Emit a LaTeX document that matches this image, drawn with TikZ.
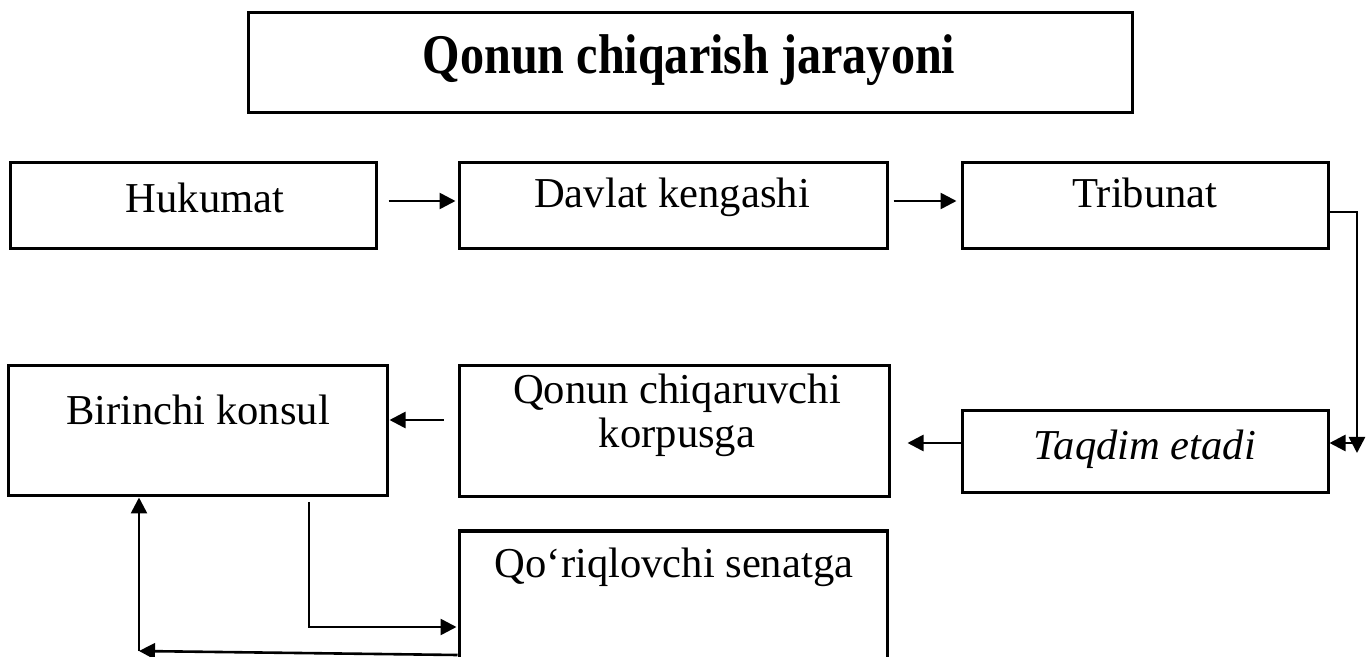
\documentclass[tikz,border=0pt]{standalone}
\usepackage{fontspec}
\setmainfont{Liberation Serif}
\usetikzlibrary{arrows.meta,calc}
\tikzset{
  box/.style={draw, line width=1.5pt, rectangle, inner sep=0pt},
  lbl/.style={anchor=base, inner sep=0pt, font=\fontsize{21.3}{25}\selectfont},
  conn/.style={line width=1.3pt, -{Triangle[length=8pt,width=8pt]}}
}
\begin{document}
\begin{tikzpicture}[x=0.5pt,y=-0.5pt]
\useasboundingbox (0,0) rectangle (1371,657);
\clip (0,0) rectangle (1371,657);
% boxes
\node[box, minimum width=442pt, minimum height=50pt] (title) at (690,63) {};
\node[box, minimum width=183pt, minimum height=43pt] (huk) at (193,206) {};
\node[box, minimum width=214pt, minimum height=43pt] (davlat) at (673,206) {};
\node[box, minimum width=183pt, minimum height=43pt] (trib) at (1145,206) {};
\node[box, minimum width=189.5pt, minimum height=65pt] (birinchi) at (197.5,431) {};
\node[box, minimum width=215pt, minimum height=65.5pt] (qonun) at (674,431.5) {};
\node[box, minimum width=183pt, minimum height=41pt] (taqdim) at (1145,452) {};
\node[box, minimum width=214pt, minimum height=84.5pt] (senat) at (673,615.5) {};
% texts
\node[anchor=base, inner sep=0pt, font=\fontsize{28}{32}\selectfont\bfseries] (titlet) at (689,74) {\scalebox{0.86}[1]{Qonun chiqarish jarayoni}};
\node[lbl] (hukt) at (205,213) {Hukumat};
\node[lbl] (davlatt) at (672,208) {Davlat kengashi};
\node[lbl] (tribt) at (1145,208) {Tribunat};
\node[lbl] (birt) at (198,425) {Birinchi konsul};
\node[lbl] (qont1) at (677,404) {Qonun chiqaruvchi};
\node[lbl] (qont2) at (677,448) {korpusga};
\node[lbl] (taqt) at (1145,460) {\itshape Taqdim etadi};
\node[lbl] (sent) at (674,577) {Qo‘riqlovchi senatga};
% connectors
\draw[conn] ([shift={(11,-5)}]huk.east) -- ([shift={(-2,-5)}]davlat.west);
\draw[conn] ([shift={(5,-5)}]davlat.east) -- ([shift={(-4,-5)}]trib.west);
\coordinate (rc) at (1357,453);
\coordinate (rm) at (1357,443);
\draw[conn] ([shift={(0,6)}]trib.east) -| (rc);
\draw[conn] (rm) -- (taqdim.east |- rm);
\draw[conn] ([shift={(0,-9)}]taqdim.west) -- ([shift={(17,11.5)}]qonun.east);
\draw[conn] ([shift={(-14,-11.5)}]qonun.west) -- ([shift={(1,-11)}]birinchi.east);
\coordinate (bs) at (309,502);
\draw[conn] (bs) |- ([shift={(-1,11.5)}]senat.west);
\coordinate (bl) at (139,651);
\draw[conn] ([shift={(0,39.5)}]senat.west) -- (bl);
\draw[conn] (bl) -- (bl |- birinchi.south);
\end{tikzpicture}
\end{document}
